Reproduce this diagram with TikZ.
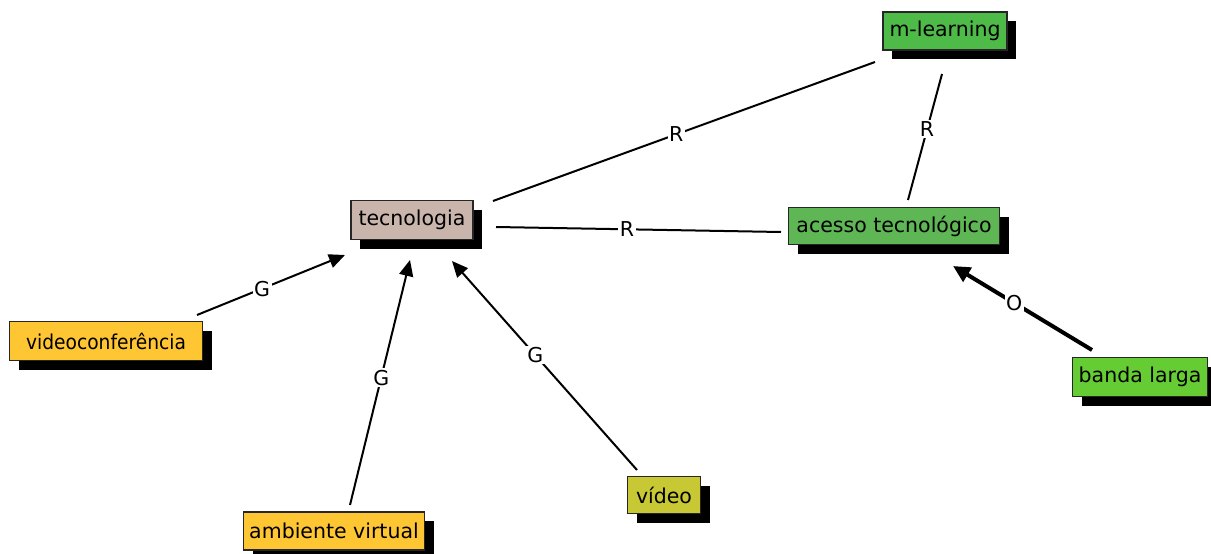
\documentclass[tikz,border=0pt]{standalone}
\usepackage{fontspec}
\setmainfont{DejaVu Sans}
\newfontfamily\narrowfont[FakeStretch=0.91]{DejaVu Sans}
\usetikzlibrary{arrows.meta,shadows,calc}
\definecolor{tecfill}{RGB}{201,181,172}
\definecolor{mlfill}{RGB}{78,186,72}
\definecolor{acfill}{RGB}{94,182,84}
\definecolor{blfill}{RGB}{102,204,51}
\definecolor{yelfill}{RGB}{255,198,51}
\definecolor{vidfill}{RGB}{200,200,52}
\tikzset{
  concept/.style={draw=black!85, line width=1.5pt, inner sep=0pt, font=\fontsize{20.5}{24}\selectfont,
    drop shadow={shadow xshift=9pt, shadow yshift=-9pt, fill=black, opacity=1}},
  link/.style={line width=2pt},
  arrowlink/.style={line width=2pt, -{Triangle[length=16pt,width=14pt]}},
  thicklink/.style={line width=4pt, -{Triangle[length=17pt,width=16pt]}},
  lab/.style={fill=white, inner sep=1.5pt, font=\fontsize{20.5}{24}\selectfont}
}
\begin{document}
\begin{tikzpicture}[x=1pt,y=-1pt]
\useasboundingbox (0,0) rectangle (1211,554);
\node[concept, fill=tecfill, minimum width=122pt, minimum height=39pt] (tec) at (412,220) {tecnologia};
\node[concept, fill=mlfill, minimum width=124pt, minimum height=38pt] (ml) at (945,31) {m-learning};
\node[concept, fill=acfill, minimum width=211pt, minimum height=37pt] (ac) at (894,226) {acesso tecnológico};
\node[concept, fill=yelfill, minimum width=193pt, minimum height=39pt, font=\narrowfont\fontsize{20.5}{24}\selectfont] (vc) at (106,341) {videoconferência};
\node[concept, fill=blfill, minimum width=135pt, minimum height=39pt] (bl) at (1140,377) {banda larga};
\node[concept, fill=vidfill, minimum width=73pt, minimum height=37pt] (vid) at (664,495) {vídeo};
\node[concept, fill=yelfill, minimum width=181pt, minimum height=38pt] (av) at (334,531) {ambiente virtual};

\draw[link] ($(ml.center)+(-70,31)$) -- node[lab, pos=0.52] (l1) {R} ($(tec.center)+(81,-19)$);
\draw[link] ($(ml.center)+(-3,43)$) -- node[lab, pos=0.44] (l2) {R} ($(ac.center)+(14,-26)$);
\draw[link] ($(tec.center)+(84,7)$) -- node[lab, pos=0.46] (l3) {R} ($(ac.center)+(-113,6)$);
\draw[arrowlink] ($(vc.center)+(91,-26)$) -- node[lab, pos=0.44] (l4) {G} ($(tec.center)+(-67,35)$);
\draw[arrowlink] ($(av.center)+(16,-26)$) -- node[lab, pos=0.52] (l5) {G} ($(tec.center)+(-2,40)$);
\draw[arrowlink] ($(vid.center)+(-27,-25)$) -- node[lab, pos=0.55] (l6) {G} ($(tec.center)+(40,41)$);
\draw[thicklink] ($(bl.center)+(-48,-27)$) -- node[lab, pos=0.56] (l7) {O} ($(ac.center)+(59,40)$);
\end{tikzpicture}
\end{document}
